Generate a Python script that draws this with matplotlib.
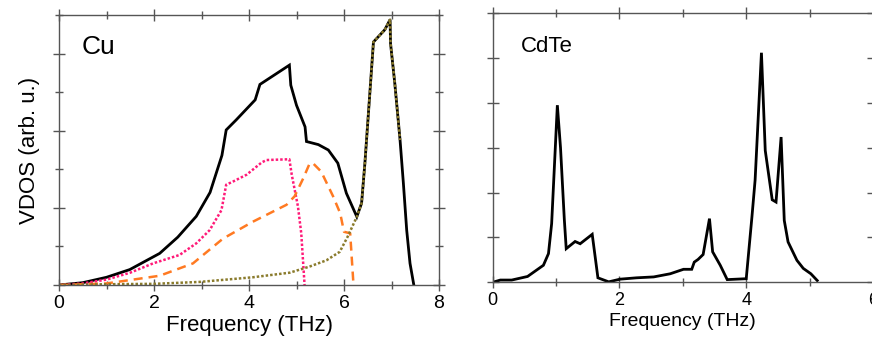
import matplotlib
matplotlib.use("Agg")
import matplotlib.pyplot as plt
from matplotlib.ticker import MultipleLocator

plt.rcParams['font.family'] = ['Liberation Sans', 'DejaVu Sans']

# Cu phonon density of states: total and partial contributions
cu_total_f = [0, 0.5, 1.0, 1.49, 2.12, 2.5, 2.89, 3.18, 3.43, 3.52, 3.73, 4.13, 4.23,
              4.85, 4.88, 5.0, 5.18, 5.21, 5.46, 5.67, 5.87, 6.05, 6.27, 6.37, 6.44,
              6.62, 6.86, 6.97, 6.98, 7.07, 7.18, 7.25, 7.32, 7.39, 7.47]
cu_total_g = [0, 0.03, 0.10, 0.20, 0.41, 0.62, 0.89, 1.20, 1.68, 2.01, 2.14, 2.40, 2.60,
              2.85, 2.59, 2.33, 2.05, 1.86, 1.82, 1.75, 1.58, 1.19, 0.885, 1.06, 1.58,
              3.15, 3.31, 3.44, 3.13, 2.61, 1.88, 1.32, 0.71, 0.28, 0]

cu_ta1_f = [0, 0.5, 1.0, 1.5, 1.98, 2.54, 2.89, 3.17, 3.42, 3.52, 3.66, 3.95, 4.27,
            4.37, 4.85, 4.90, 5.03, 5.10, 5.17]
cu_ta1_g = [0, 0.02, 0.07, 0.16, 0.28, 0.39, 0.54, 0.71, 0.97, 1.30, 1.34, 1.43, 1.59,
            1.62, 1.63, 1.43, 1.02, 0.67, 0]

cu_ta2_f = [0, 0.5, 1.0, 1.56, 2.12, 2.82, 3.45, 4.08, 4.79, 4.96, 5.14, 5.28, 5.36,
            5.52, 5.77, 5.92, 6.0, 6.13, 6.2]
cu_ta2_g = [0, 0.01, 0.02, 0.07, 0.12, 0.28, 0.60, 0.82, 1.04, 1.15, 1.38, 1.58, 1.57,
            1.47, 1.15, 0.93, 0.69, 0.67, 0]

cu_la_f = [0, 1, 2, 2.96, 4.08, 4.86, 5.28, 5.63, 5.91, 6.08, 6.27, 6.37, 6.44, 6.62,
           6.86, 6.97, 6.98, 7.07, 7.18]
cu_la_g = [0, 0.01, 0.015, 0.04, 0.10, 0.16, 0.24, 0.32, 0.43, 0.63, 0.885, 1.06, 1.58,
           3.15, 3.31, 3.44, 3.13, 2.61, 1.88]

# CdTe phonon density of states
cdte_f = [0, 0.12, 0.3, 0.55, 0.70, 0.80, 0.88, 0.93, 1.02, 1.07, 1.13, 1.16, 1.30, 1.38,
          1.57, 1.66, 1.83, 2.01, 2.27, 2.54, 2.80, 3.01, 3.14, 3.18, 3.24, 3.32, 3.42,
          3.47, 3.59, 3.70, 4.0, 4.09, 4.14, 4.24, 4.30, 4.41, 4.47, 4.55, 4.60, 4.66,
          4.80, 4.90, 5.02, 5.12]
cdte_g = [0, 0.05, 0.05, 0.13, 0.28, 0.38, 0.64, 1.31, 3.95, 3.0, 1.4, 0.75, 0.91, 0.86,
          1.07, 0.10, 0.01, 0.07, 0.10, 0.12, 0.19, 0.29, 0.29, 0.45, 0.51, 0.62, 1.42,
          0.68, 0.38, 0.06, 0.08, 1.46, 2.28, 5.12, 2.94, 1.84, 1.79, 3.24, 1.38, 0.90,
          0.49, 0.31, 0.19, 0.04]

fig = plt.figure(figsize=(8.72, 3.47), dpi=100)
ax1 = fig.add_axes([59 / 872, 62 / 347, 380 / 872, 270 / 347])
ax2 = fig.add_axes([492.7 / 872, 64.7 / 347, 380.3 / 872, 269 / 347])

spine_col = '#555555'


def style_axes(ax, tick_size):
    for s in ax.spines.values():
        s.set_color(spine_col)
        s.set_linewidth(1.0)
    ax.tick_params(which='both', direction='inout', top=True, right=True,
                   color=spine_col, width=1.0, labelsize=tick_size, pad=3)
    ax.tick_params(which='major', length=8)
    ax.tick_params(which='minor', length=6)
    ax.tick_params(axis='y', labelleft=False)


# Cu panel
ax1.plot(cu_total_f, cu_total_g, color='black', lw=2.0, solid_joinstyle='miter')
ax1.plot(cu_ta1_f, cu_ta1_g, color='#ff1a78', lw=1.8, linestyle=(0, (1, 0.8)))
ax1.plot(cu_ta2_f, cu_ta2_g, color='#ff7a22', lw=1.8, linestyle=(0, (3.6, 2.4)))
ax1.plot(cu_la_f, cu_la_g, color='#8a7b2c', lw=1.8, linestyle=(0, (1, 0.8)))
ax1.set_xlim(0, 8)
ax1.set_ylim(0, 3.5)
ax1.xaxis.set_major_locator(MultipleLocator(2))
ax1.xaxis.set_minor_locator(MultipleLocator(1))
ax1.yaxis.set_major_locator(MultipleLocator(1))
ax1.yaxis.set_minor_locator(MultipleLocator(0.5))
style_axes(ax1, 14)
ax1.set_xlabel('Frequency (THz)', fontsize=16, labelpad=2)
ax1.set_ylabel('VDOS (arb. u.)', fontsize=16, labelpad=8)
ax1.text(0.06, 0.88, 'Cu', transform=ax1.transAxes, fontsize=19,
         ha='left', va='center')

# CdTe panel
ax2.plot(cdte_f, cdte_g, color='black', lw=2.0, solid_joinstyle='miter')
ax2.set_xlim(0, 6)
ax2.set_ylim(0, 6)
ax2.xaxis.set_major_locator(MultipleLocator(2))
ax2.xaxis.set_minor_locator(MultipleLocator(1))
ax2.yaxis.set_major_locator(MultipleLocator(1))
ax2.yaxis.set_minor_locator(MultipleLocator(1))
style_axes(ax2, 13)
ax2.set_xlabel('Frequency (THz)', fontsize=14, labelpad=3)
ax2.text(0.075, 0.877, 'CdTe', transform=ax2.transAxes, fontsize=16,
         ha='left', va='center')

fig.savefig('out.png', dpi=100)
